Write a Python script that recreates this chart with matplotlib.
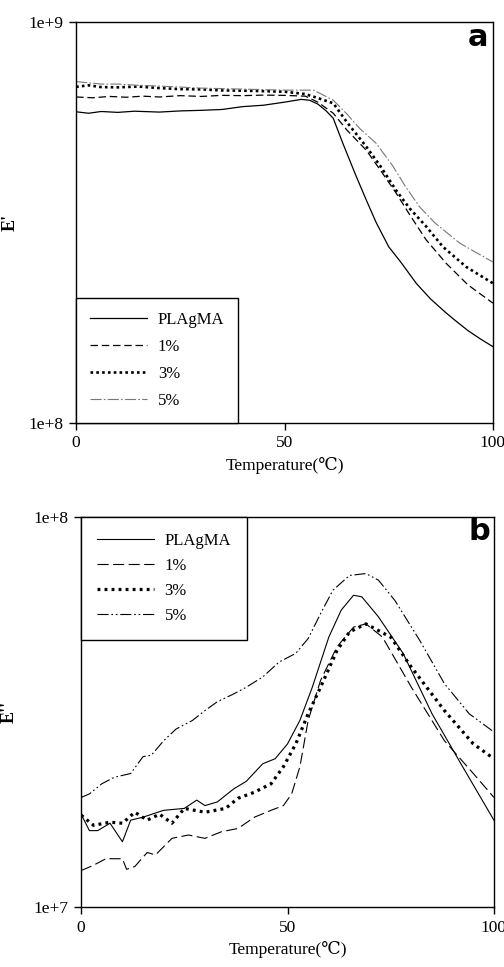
import math
import matplotlib
matplotlib.use("Agg")
import matplotlib.pyplot as plt

plt.rcParams['font.family'] = ['Liberation Serif', 'DejaVu Serif']

labels = ["PLAgMA", "1%", "3%", "5%"]

# panel a: storage modulus E' (Pa)
ta_plagma = [0, 3, 6, 10, 14, 20, 25, 30, 35, 40, 45, 50, 54, 56, 58, 60, 61.7, 64, 67, 69.6, 72, 75, 78, 81.6, 85, 88.8, 91, 94, 97, 100]
ea_plagma = [5.97e8, 5.92e8, 5.98e8, 5.95e8, 5.99e8, 5.96e8, 6.0e8, 6.02e8, 6.05e8, 6.15e8, 6.2e8, 6.31e8, 6.41e8, 6.38e8, 6.24e8, 6.0e8, 5.75e8,
             4.98e8, 4.17e8, 3.6e8, 3.16e8, 2.75e8, 2.51e8, 2.23e8, 2.04e8, 1.88e8, 1.8e8, 1.7e8, 1.62e8, 1.55e8]

ta_1 = [0, 4, 8, 12, 16, 20, 25, 30, 35, 40, 45, 50, 55, 58, 61.7, 65, 69.6, 73, 76.8, 80, 84, 88.8, 94, 100]
ea_1 = [6.5e8, 6.47e8, 6.52e8, 6.49e8, 6.53e8, 6.5e8, 6.55e8, 6.52e8, 6.56e8, 6.55e8, 6.57e8, 6.56e8, 6.53e8, 6.31e8, 5.92e8,
        5.37e8, 4.79e8, 4.27e8, 3.74e8, 3.31e8, 2.86e8, 2.5e8, 2.21e8, 1.99e8]

ta_3 = [0, 3, 6, 10, 15, 20, 25, 30, 35, 40, 45, 50, 55, 58, 61.7, 65, 69.6, 73, 76.8, 80, 84, 88, 93.6, 100]
ea_3 = [6.89e8, 6.95e8, 6.88e8, 6.87e8, 6.9e8, 6.84e8, 6.8e8, 6.79e8, 6.75e8, 6.74e8, 6.72e8, 6.7e8, 6.61e8, 6.46e8, 6.27e8,
        5.62e8, 4.89e8, 4.37e8, 3.8e8, 3.43e8, 3.09e8, 2.75e8, 2.45e8, 2.23e8]

ta_5 = [0, 3, 6, 10, 15, 20, 25, 30, 35, 40, 45, 50, 57, 61.7, 65, 68, 72, 76, 79, 82.4, 86, 92, 96, 100]
ea_5 = [7.1e8, 7.05e8, 7.0e8, 7.0e8, 6.95e8, 6.92e8, 6.88e8, 6.84e8, 6.82e8, 6.8e8, 6.78e8, 6.76e8, 6.76e8, 6.38e8,
        5.89e8, 5.43e8, 4.98e8, 4.37e8, 3.89e8, 3.46e8, 3.16e8, 2.81e8, 2.66e8, 2.52e8]

# panel b: loss modulus E'' (Pa)
tb_plagma = [0, 2, 4, 7, 10, 12, 15, 20, 25, 28, 30, 33, 37, 40, 44, 47, 50, 53, 56, 60, 63, 66, 68, 72, 78, 85, 92, 100]
eb_plagma = [1.73e7, 1.57e7, 1.57e7, 1.64e7, 1.47e7, 1.67e7, 1.7e7, 1.77e7, 1.79e7, 1.88e7, 1.82e7, 1.86e7, 2.01e7, 2.1e7,
             2.33e7, 2.4e7, 2.62e7, 3.01e7, 3.66e7, 4.92e7, 5.77e7, 6.3e7, 6.24e7, 5.55e7, 4.47e7, 3.13e7, 2.33e7, 1.67e7]

tb_1 = [0, 3, 6, 10, 11, 13, 16, 18, 22, 26, 30, 34, 38, 42, 46, 49, 51, 53, 55, 58, 62, 66, 69, 73, 80, 88, 95, 100]
eb_1 = [1.24e7, 1.28e7, 1.33e7, 1.33e7, 1.25e7, 1.27e7, 1.38e7, 1.36e7, 1.5e7, 1.53e7, 1.5e7, 1.56e7, 1.59e7, 1.7e7,
        1.77e7, 1.82e7, 1.95e7, 2.29e7, 3.01e7, 3.81e7, 4.65e7, 5.22e7, 5.32e7, 4.92e7, 3.66e7, 2.67e7, 2.2e7, 1.91e7]

tb_3 = [0, 3, 7, 10, 13, 16, 19, 22, 25, 30, 35, 38, 42, 46, 49, 52, 55, 58, 62, 65, 69, 75, 80, 88, 95, 100]
eb_3 = [1.72e7, 1.62e7, 1.65e7, 1.64e7, 1.75e7, 1.67e7, 1.73e7, 1.64e7, 1.79e7, 1.75e7, 1.79e7, 1.9e7, 1.97e7, 2.07e7,
        2.29e7, 2.62e7, 3.13e7, 3.66e7, 4.55e7, 5.07e7, 5.32e7, 4.92e7, 4.12e7, 3.19e7, 2.62e7, 2.4e7]

tb_5 = [0, 2, 5, 8, 12, 15, 17, 20, 23, 27, 30, 33, 37, 40, 44, 48, 52, 55, 58, 61, 65, 69, 72, 76, 82, 88, 94, 100]
eb_5 = [1.91e7, 1.95e7, 2.07e7, 2.15e7, 2.2e7, 2.43e7, 2.45e7, 2.67e7, 2.86e7, 3.01e7, 3.19e7, 3.36e7, 3.52e7, 3.66e7,
        3.89e7, 4.25e7, 4.47e7, 4.88e7, 5.65e7, 6.49e7, 7.08e7, 7.16e7, 6.89e7, 6.11e7, 4.83e7, 3.74e7, 3.13e7, 2.81e7]

fig = plt.figure(figsize=(5.04, 9.67), dpi=100)
ax1 = fig.add_axes([0.151, 0.5626, 0.827, 0.4147])
ax2 = fig.add_axes([0.161, 0.0620, 0.819, 0.4034])

# panel a lines
ax1.plot(ta_plagma, ea_plagma, color='black', lw=0.9, label=labels[0])
ax1.plot(ta_1, ea_1, color='black', lw=0.9, linestyle=(0, (6, 3)), label=labels[1])
ax1.plot(ta_3, ea_3, color='black', lw=1.9, linestyle=(0, (1, 1.2)), label=labels[2])
ax1.plot(ta_5, ea_5, color='#777777', lw=0.8, linestyle=(0, (10, 2, 1.5, 2)), label=labels[3])

# panel b lines
ax2.plot(tb_plagma, eb_plagma, color='black', lw=0.8, label=labels[0])
ax2.plot(tb_1, eb_1, color='black', lw=0.8, linestyle=(0, (10, 4)), label=labels[1])
ax2.plot(tb_3, eb_3, color='black', lw=2.3, linestyle=(0, (0.9, 1.3)), label=labels[2])
ax2.plot(tb_5, eb_5, color='black', lw=0.8, linestyle=(0, (10, 2.5, 1.5, 2.5, 1.5, 2.5)), label=labels[3])

for ax, lo, hi, ylab, letter, ylx in [(ax1, 1e8, 1e9, "E'", 'a', -0.139), (ax2, 1e7, 1e8, "E''", 'b', -0.153)]:
    ax.set_yscale('log')
    ax.set_ylim(lo, hi)
    ax.set_xlim(0, 100)
    ax.set_yticks([lo, hi])
    ax.set_yticklabels(['1e+%d' % round(math.log10(lo)), '1e+%d' % round(math.log10(hi))])
    ax.yaxis.set_minor_locator(matplotlib.ticker.NullLocator())
    ax.set_xticks([0, 50, 100])
    ax.set_xticklabels(['0', '50', '100'])
    ax.tick_params(direction='out', length=5, width=1, labelsize=12.5, pad=4)
    for s in ax.spines.values():
        s.set_linewidth(1.0)
    ax.set_xlabel('Temperature(\u2103)', fontsize=12.5, labelpad=4)
    ax.set_ylabel(ylab, fontsize=13, fontweight='bold')
    ax.yaxis.set_label_coords(ylx, 0.5)
    ax.text(0.965, 0.962, letter, transform=ax.transAxes, ha='center', va='center',
            fontsize=22, fontweight='bold', family='DejaVu Sans')

leg1 = ax1.legend(loc='lower left', bbox_to_anchor=(0, 0), borderaxespad=0, fontsize=12,
                  handlelength=3.4, handletextpad=0.65, borderpad=0.85, labelspacing=0.66,
                  fancybox=False, edgecolor='black', framealpha=1)
leg1.get_frame().set_linewidth(1.0)

leg2 = ax2.legend(loc='upper left', bbox_to_anchor=(0, 1), borderaxespad=0, fontsize=12,
                  handlelength=3.4, handletextpad=0.65, borderpad=0.95, labelspacing=0.55,
                  fancybox=False, edgecolor='black', framealpha=1)
leg2.get_frame().set_linewidth(1.0)

fig.savefig('out.png', dpi=100)
